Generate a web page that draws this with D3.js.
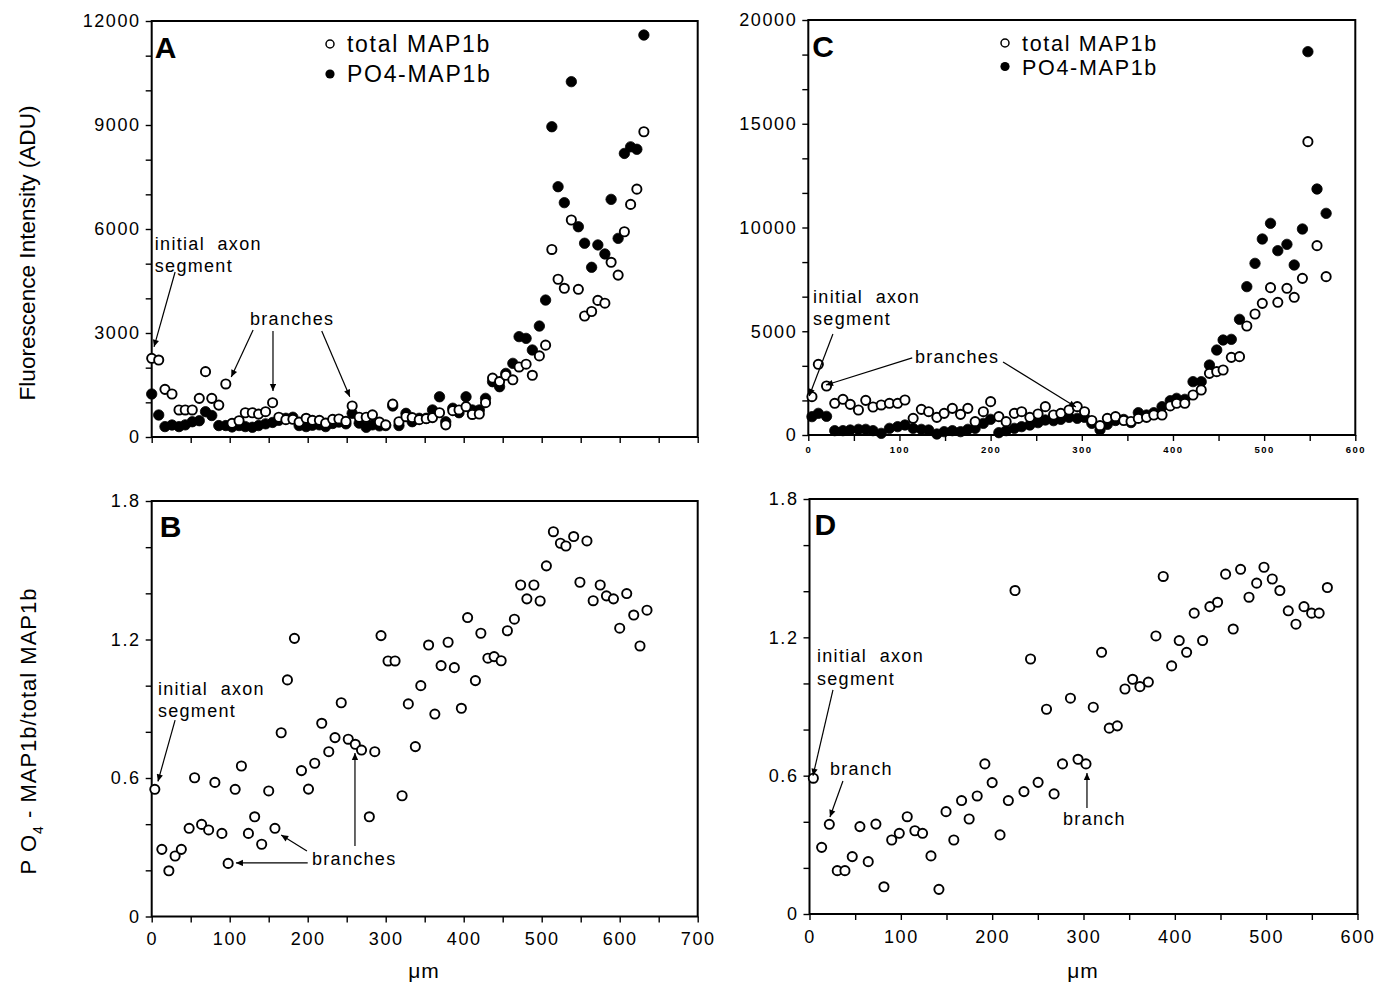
<!DOCTYPE html>
<html>
<head>
<meta charset="utf-8">
<script src="https://cdn.jsdelivr.net/npm/d3@7"></script>
<style>
  body { margin: 0; background: #fff; }
  svg { display: block; font-family: "Liberation Sans", Arial, Helvetica, sans-serif; }
</style>
</head>
<body>
<script>
// ---------- Panel A: fluorescence along the axon (neuron 1) ----------
const aDistance = [0,9,17,26,35,43,52,61,69,77,86,95,103,112,120,129,137,146,155,163,
  172,181,189,198,206,215,223,232,240,249,257,266,275,283,292,300,309,317,326,334,
  343,352,360,369,377,386,394,403,411,420,428,437,446,454,463,471,480,488,497,505,
  513,521,529,538,547,555,564,572,581,589,598,606,614,622,631];
const aTotal = [2270,2220,1375,1240,780,780,780,1115,1885,1115,
  920,1530,395,470,700,700,660,730,990,570,
  500,510,430,540,480,480,400,510,520,450,
  895,570,570,640,430,350,950,440,585,560,
  500,530,560,700,350,760,780,875,650,663,
  990,1700,1600,1780,1650,2020,2100,1780,2340,2650,
  5410,4550,4290,6260,4260,3490,3620,3940,3860,5040,
  4670,5920,6710,7150,8805];
const aPhospho = [1240,635,300,346,300,350,440,470,730,620,
  330,330,290,330,300,280,330,380,420,480,
  540,570,330,300,340,350,300,390,430,380,
  683,400,280,350,320,330,895,330,683,441,
  540,540,780,1160,440,830,700,1160,780,780,
  1115,1595,1450,1835,2125,2895,2845,2510,3200,3950,
  8950,7220,6760,10250,6065,5590,4895,5540,5280,6855,
  5730,8180,8370,8300,11595];

// ---------- Panel B: PO4-MAP1b / total MAP1b (neuron 1) ----------
const bDistance = [4,13,22,30,38,48,55,64,73,81,
  90,98,107,115,124,132,141,150,158,166,
  174,183,192,201,209,218,227,235,243,252,
  261,269,279,286,294,303,312,321,329,338,
  345,355,363,371,380,388,397,405,415,422,
  431,439,448,456,465,473,481,490,498,506,
  515,524,531,541,549,558,566,575,583,592,
  600,609,618,626,635];
const bRatio = [0.551,0.291,0.198,0.262,0.291,0.382,0.601,0.399,0.375,0.581,
  0.360,0.230,0.551,0.652,0.360,0.432,0.313,0.544,0.382,0.796,
  1.025,1.205,0.632,0.552,0.664,0.837,0.714,0.775,0.926,0.768,
  0.746,0.721,0.432,0.714,1.217,1.107,1.107,0.523,0.921,0.736,
  1.000,1.176,0.877,1.087,1.188,1.078,0.902,1.295,1.022,1.227,
  1.119,1.126,1.108,1.238,1.288,1.436,1.376,1.436,1.367,1.519,
  1.667,1.617,1.605,1.646,1.448,1.627,1.368,1.436,1.389,1.376,
  1.249,1.399,1.306,1.172,1.327];

// ---------- Panel C: fluorescence along the axon (neuron 2) ----------
const cDistance = [4,11,20,29,38,46,55,63,71,80,
  89,98,106,115,124,132,141,149,158,167,
  175,183,192,200,209,217,226,234,243,252,
  260,269,277,286,295,303,311,320,328,337,
  346,354,362,371,379,388,397,404,413,422,
  431,440,448,455,464,473,481,490,498,507,
  515,525,533,542,548,558,568];
const cTotal = [1846,3407,2361,1527,1720,1478,1205,1671,1350,1447,
  1527,1527,1687,803,1237,1124,851,1044,1285,996,
  1285,643,1124,1607,884,643,1044,1124,851,1012,
  1367,964,1044,1205,1367,1124,700,450,803,884,
  700,650,800,850,964,964,1400,1527,1527,1928,
  2169,2972,3052,3133,3743,3775,5253,5831,6345,7101,
  6394,7069,6635,7550,14137,9125,7631];
const cPhospho = [884,1044,900,209,209,241,273,273,209,80,
  321,402,482,321,273,241,48,161,209,161,
  273,321,562,755,112,209,321,402,482,594,
  723,691,755,851,803,851,562,250,514,700,
  750,600,1076,964,1076,1365,1654,1767,1719,2570,
  2570,3373,4096,4578,4610,5574,7149,8273,9446,10201,
  8884,9189,8193,9928,18474,11855,10683];

// ---------- Panel D: PO4-MAP1b / total MAP1b (neuron 2) ----------
const dDistance = [4.2,13.3,21.7,30.4,38.8,46.8,55.2,64.3,72.7,81.5,
  90,98.3,107,115.4,123.8,133,141.7,149.5,158,166.5,
  174.8,183.6,192,200,208.6,217.7,225,234.8,242,250.3,
  259.5,267.8,277,285.7,294,302.7,310.7,319.8,328.2,337,
  345.4,353.8,361.8,371,379.3,387.3,396.5,404.8,412.9,421.2,
  430.4,438.4,446.8,455.6,463.9,472,481.2,489.6,497.6,506.7,
  515,524.2,532.6,541.4,549.8,558,567];
const dRatio = [0.589,0.289,0.389,0.188,0.188,0.249,0.379,0.227,0.390,0.118,
  0.321,0.350,0.422,0.361,0.350,0.252,0.107,0.444,0.321,0.492,
  0.412,0.512,0.651,0.570,0.343,0.492,1.403,0.531,1.106,0.571,
  0.888,0.521,0.651,0.936,0.671,0.651,0.897,1.135,0.806,0.816,
  0.976,1.018,0.986,1.006,1.206,1.464,1.076,1.186,1.135,1.305,
  1.186,1.333,1.352,1.474,1.236,1.495,1.374,1.435,1.504,1.453,
  1.403,1.315,1.257,1.333,1.305,1.305,1.416];

// ---------- Tick labels ----------
const aYTickLabels = ["0","3000","6000","9000","12000"];
const cYTickLabels = ["0","5000","10000","15000","20000"];
const ratioTickLabels = ["0","0.6","1.2","1.8"];
const bXTickLabels = ["0","100","200","300","400","500","600","700"];
const dXTickLabels = ["0","100","200","300","400","500","600"];
const cXTickLabels = ["0","100","200","300","400","500","600"];

// ---------- Legend text ----------
const legendLabels = ["total MAP1b", "PO4-MAP1b"];

const W = 1398, H = 987;
const svg = d3.select("body").append("svg").attr("width", W).attr("height", H);

svg.append("defs").append("marker")
  .attr("id", "arrowhead").attr("viewBox", "0 0 10 10")
  .attr("refX", 10).attr("refY", 5)
  .attr("markerWidth", 9).attr("markerHeight", 7)
  .attr("markerUnits", "userSpaceOnUse").attr("orient", "auto")
  .append("path").attr("d", "M0,0.5L10,5L0,9.5z").attr("fill", "#000");

// Build one framed panel with its scales and axes
function makePanel(cfg) {
  const x = d3.scaleLinear().domain(cfg.xDomain).range(cfg.xRange);
  const y = d3.scaleLinear().domain(cfg.yDomain).range(cfg.yRange);
  const g = svg.append("g");

  // y axis
  const yTicks = d3.range(cfg.yTickCount + 1).map(i => cfg.yDomain[0] + i * (cfg.yDomain[1] - cfg.yDomain[0]) / cfg.yTickCount);
  const yAxis = d3.axisLeft(y).tickValues(yTicks).tickSize(6).tickSizeOuter(0).tickPadding(5)
    .tickFormat((d, i) => i % cfg.yLabelEvery === 0 ? cfg.yLabels[i / cfg.yLabelEvery] : "");
  const ya = g.append("g").attr("transform", `translate(${cfg.xRange[0]},0)`).call(yAxis);
  ya.select(".domain").remove();
  ya.selectAll("line").attr("stroke", "#000").attr("stroke-width", 1.4);
  ya.selectAll("text").attr("font-size", 18).attr("letter-spacing", 1.6).attr("fill", "#000");

  // x axis
  const xTicks = d3.range(cfg.xTickCount + 1).map(i => cfg.xDomain[0] + i * (cfg.xDomain[1] - cfg.xDomain[0]) / cfg.xTickCount);
  const xAxis = d3.axisBottom(x).tickValues(xTicks).tickSize(6).tickSizeOuter(0).tickPadding(cfg.xPad || 10)
    .tickFormat((d, i) => cfg.xLabels && i % cfg.xLabelEvery === 0 ? cfg.xLabels[i / cfg.xLabelEvery] : "");
  const xa = g.append("g").attr("transform", `translate(0,${cfg.yRange[0]})`).call(xAxis);
  xa.select(".domain").remove();
  xa.selectAll("line").attr("stroke", "#000").attr("stroke-width", 1.4);
  xa.selectAll("text").attr("font-size", cfg.xFont || 18)
    .attr("font-weight", cfg.xBold ? "bold" : "normal")
    .attr("letter-spacing", cfg.xSpacing || 1.6).attr("fill", "#000");

  // frame
  g.append("rect")
    .attr("x", cfg.xRange[0]).attr("y", cfg.yRange[1])
    .attr("width", cfg.xRange[1] - cfg.xRange[0]).attr("height", cfg.yRange[0] - cfg.yRange[1])
    .attr("fill", "none").attr("stroke", "#000").attr("stroke-width", 2);

  // panel letter
  g.append("text").attr("x", cfg.xRange[0] + cfg.letterDx).attr("y", cfg.yRange[1] + cfg.letterDy)
    .attr("font-size", 30).attr("font-weight", "bold").text(cfg.letter);

  return { g, x, y };
}

function scatter(p, xs, ys, filled, r) {
  p.g.append("g").selectAll("circle").data(xs.map((d, i) => [d, ys[i]])).join("circle")
    .attr("cx", d => p.x(d[0])).attr("cy", d => p.y(d[1])).attr("r", r)
    .attr("fill", filled ? "#000" : "#fff")
    .attr("stroke", "#000").attr("stroke-width", filled ? 0.8 : 1.9);
}

function note(p, lines, x0, y0, lineGap) {
  lines.forEach((t, i) => {
    p.g.append("text").attr("x", p.x(x0)).attr("y", p.y(y0) + i * lineGap)
      .attr("font-size", 18).attr("letter-spacing", 1.3)
      .style("white-space", "pre").attr("xml:space", "preserve").text(t);
  });
}

function arrow(p, from, to) {
  p.g.append("line")
    .attr("x1", p.x(from[0])).attr("y1", p.y(from[1]))
    .attr("x2", p.x(to[0])).attr("y2", p.y(to[1]))
    .attr("stroke", "#000").attr("stroke-width", 1.2)
    .attr("marker-end", "url(#arrowhead)");
}

function legend(px, py, gap, size) {
  const g = svg.append("g");
  g.append("circle").attr("cx", px).attr("cy", py - 8).attr("r", 4)
    .attr("fill", "#fff").attr("stroke", "#000").attr("stroke-width", 1.5);
  g.append("circle").attr("cx", px).attr("cy", py + gap - 8).attr("r", 4.6).attr("fill", "#000");
  legendLabels.forEach((t, i) => {
    g.append("text").attr("x", px + 17).attr("y", py + i * gap)
      .attr("font-size", size).attr("letter-spacing", 1.7).text(t);
  });
}

// ---------- Panels ----------
const A = makePanel({ xDomain: [0, 700], xRange: [151.7, 697.7], yDomain: [0, 12000], yRange: [437, 21],
  yTickCount: 12, yLabelEvery: 3, yLabels: aYTickLabels, xTickCount: 14, xLabels: null,
  letter: "A", letterDx: 3, letterDy: 37 });
const B = makePanel({ xDomain: [0, 700], xRange: [151.7, 697.7], yDomain: [0, 1.8], yRange: [916.5, 501],
  yTickCount: 9, yLabelEvery: 3, yLabels: ratioTickLabels, xTickCount: 14, xLabelEvery: 2, xLabels: bXTickLabels,
  letter: "B", letterDx: 8, letterDy: 36 });
const C = makePanel({ xDomain: [0, 600], xRange: [808.3, 1355.3], yDomain: [0, 20000], yRange: [435, 20],
  yTickCount: 12, yLabelEvery: 3, yLabels: cYTickLabels, xTickCount: 12, xLabelEvery: 2, xLabels: cXTickLabels,
  xFont: 9.5, xBold: true, xSpacing: 1.5, xPad: 5,
  letter: "C", letterDx: 4, letterDy: 37 });
const D = makePanel({ xDomain: [0, 600], xRange: [809.5, 1357.5], yDomain: [0, 1.8], yRange: [914, 499],
  yTickCount: 9, yLabelEvery: 3, yLabels: ratioTickLabels, xTickCount: 12, xLabelEvery: 2, xLabels: dXTickLabels,
  letter: "D", letterDx: 5, letterDy: 36 });

// data points
scatter(A, aDistance, aPhospho, true, 5.2);
scatter(A, aDistance, aTotal, false, 4.6);
scatter(B, bDistance, bRatio, false, 4.6);
scatter(C, cDistance, cPhospho, true, 5.2);
scatter(C, cDistance, cTotal, false, 4.6);
scatter(D, dDistance, dRatio, false, 4.6);

// legends
legend(330, 52, 30, 23);
legend(1005, 51, 23.5, 21.5);

// annotations
note(A, ["initial  axon", "segment"], 4, 5390, 22);
note(A, ["branches"], 126, 3230, 0);
arrow(A, [30, 4760], [3, 2600]);
arrow(A, [130, 3086], [102, 1730]);
arrow(A, [155.5, 3057], [155.5, 1330]);
arrow(A, [218, 3057], [254, 1160]);

note(B, ["initial  axon", "segment"], 8, 0.960, 22);
note(B, ["branches"], 205.5, 0.223, 0);
arrow(B, [30, 0.851], [8, 0.585]);
arrow(B, [199, 0.284], [166, 0.353]);
arrow(B, [200, 0.232], [108, 0.232]);
arrow(B, [260.6, 0.305], [260.6, 0.708]);

note(C, ["initial  axon", "segment"], 5.2, 6361, 22);
note(C, ["branches"], 117, 3470, 0);
arrow(C, [27, 4867], [1, 1880]);
arrow(C, [114, 3720], [19.4, 2410]);
arrow(C, [213.6, 3518], [293.5, 1349]);

note(D, ["initial  axon", "segment"], 8.2, 1.093, 23);
note(D, ["branch"], 22.4, 0.603, 0);
note(D, ["branch"], 277.6, 0.386, 0);
arrow(D, [25.7, 0.972], [3.8, 0.60]);
arrow(D, [36.6, 0.577], [22.4, 0.421]);
arrow(D, [303.8, 0.460], [303.8, 0.612]);

// axis titles
svg.append("text").attr("transform", "translate(35,253) rotate(-90)")
  .attr("text-anchor", "middle").attr("font-size", 22)
  .attr("textLength", 295).attr("lengthAdjust", "spacingAndGlyphs")
  .text("Fluorescence Intensity (ADU)");

const rt = svg.append("text").attr("transform", "translate(36,731) rotate(-90)")
  .attr("text-anchor", "middle").attr("font-size", 22).attr("letter-spacing", 1);
rt.append("tspan").text("P O");
rt.append("tspan").attr("font-size", 14).attr("dy", 7).text("4");
rt.append("tspan").attr("dy", -7).text(" - MAP1b/total MAP1b");

svg.append("text").attr("x", 424).attr("y", 978).attr("text-anchor", "middle")
  .attr("font-size", 21).attr("letter-spacing", 1).text("μm");
svg.append("text").attr("x", 1083).attr("y", 978).attr("text-anchor", "middle")
  .attr("font-size", 21).attr("letter-spacing", 1).text("μm");
</script>
</body>
</html>
